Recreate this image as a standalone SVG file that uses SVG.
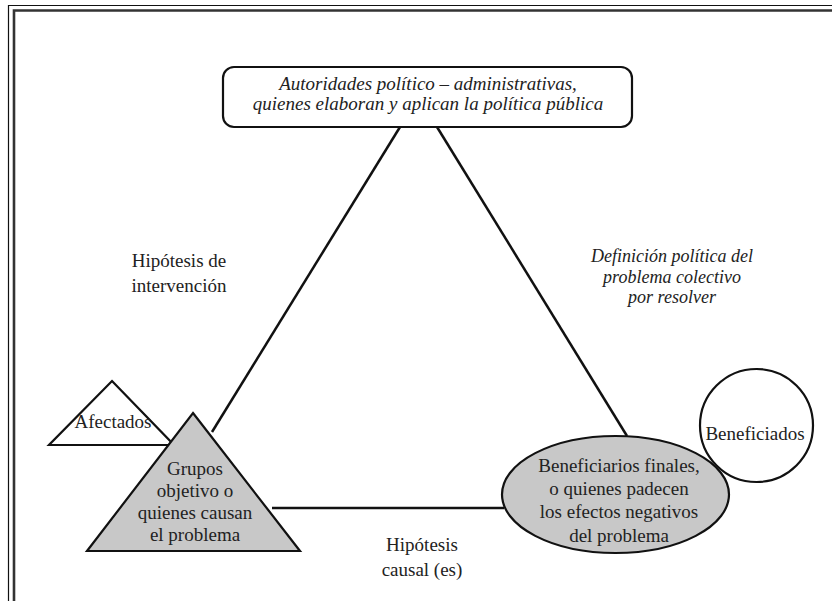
<svg xmlns="http://www.w3.org/2000/svg" width="832" height="601" viewBox="0 0 832 601">
<style>
  text { font-family: "Liberation Serif", "Times New Roman", serif; font-size: 19px; fill: #222; text-anchor: middle; }
  .it { font-style: italic; }
  .shape { stroke: #111; stroke-width: 2.2; stroke-linejoin: miter; }
  .gray { fill: #c8c8c8; }
  .white { fill: #fff; }
  .conn { stroke: #111; stroke-width: 2.5; fill: none; }
</style>
<rect x="0" y="0" width="832" height="601" fill="#fff"/>
<g id="frame" fill="none">
  <path d="M8.5 610 V5.5 H840" stroke="#111" stroke-width="1.2"/>
  <path d="M14 610 V10.5 H840" stroke="#333" stroke-width="2.6"/>
</g>
<g id="connectors">
  <line class="conn" x1="400" y1="127" x2="212" y2="432"/>
  <line class="conn" x1="437" y1="127" x2="627" y2="436"/>
  <line class="conn" x1="272" y1="508" x2="504" y2="508"/>
</g>
<g id="autoridades">
  <rect class="shape white" x="223" y="67" width="409" height="60" rx="11"/>
  <text class="it" x="428" y="90">Autoridades político – administrativas,</text>
  <text class="it" x="428" y="110">quienes elaboran y aplican la política pública</text>
</g>
<g id="afectados">
  <polygon class="shape white" points="112,381 174,445 49,445"/>
  <text x="113" y="428">Afectados</text>
</g>
<g id="grupos">
  <polygon class="shape gray" points="193,413 300,551 87,551"/>
  <text x="195" y="475">Grupos</text>
  <text x="195" y="497">objetivo o</text>
  <text x="195" y="519">quienes causan</text>
  <text x="195" y="541">el problema</text>
</g>
<g id="beneficiados">
  <circle class="shape white" cx="756.5" cy="425.5" r="56.5"/>
  <text x="755" y="440">Beneficiados</text>
</g>
<g id="beneficiarios">
  <ellipse class="shape gray" cx="615.5" cy="494.5" rx="113.5" ry="58.5"/>
  <text x="619" y="472">Beneficiarios finales,</text>
  <text x="619" y="495">o quienes padecen</text>
  <text x="619" y="518">los efectos negativos</text>
  <text x="619" y="542">del problema</text>
</g>
<g id="labels">
  <text x="179" y="267">Hipótesis de</text>
  <text x="179" y="292">intervención</text>
  <text class="it" x="672" y="262" style="font-size:18px">Definición política del</text>
  <text class="it" x="672" y="283" style="font-size:18px">problema colectivo</text>
  <text class="it" x="672" y="303" style="font-size:18px">por resolver</text>
  <text x="422" y="551">Hipótesis</text>
  <text x="422" y="576">causal (es)</text>
</g>
</svg>
